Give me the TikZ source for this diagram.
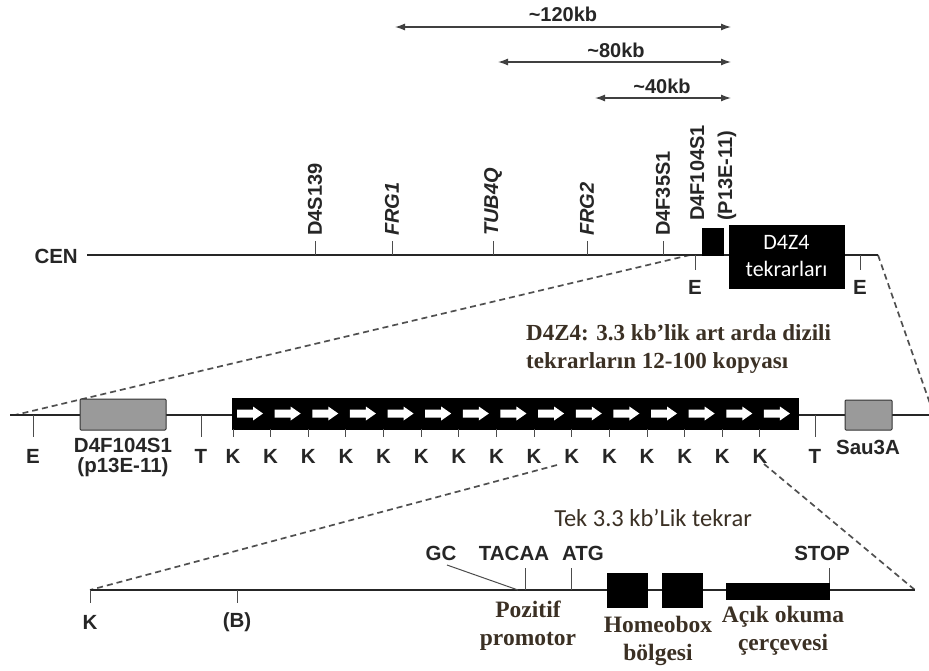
\documentclass[tikz,border=0pt]{standalone}
\usepackage{fontspec}
\setmainfont{Liberation Sans}
\newfontfamily\serifb{Liberation Serif}
\newfontfamily\calib{Carlito}
\usetikzlibrary{arrows.meta}
\definecolor{txtbrown}{HTML}{3B3024}
\definecolor{dashgray}{HTML}{505050}
\definecolor{boxgray}{HTML}{9A9A9A}
\tikzset{
  dnaline/.style={line width=1.8pt, draw=black!85},
  tickline/.style={line width=1pt, draw=black!70},
  zoomdash/.style={line width=1.7pt, draw=dashgray, dash pattern=on 6pt off 4pt},
  scalearrow/.style={line width=1.3pt, draw=black!75, {Latex[length=10pt,width=7pt]}-{Latex[length=10pt,width=7pt]}},
  lab/.style={font=\bfseries\fontsize{20.5}{24}\selectfont, inner sep=0pt, text=black!85},
  toplab/.style={font=\bfseries\fontsize{20}{22}\selectfont, inner sep=0pt, text=black!85},
  rlab/.style={font=\bfseries\fontsize{20}{22}\selectfont, inner sep=0pt, rotate=90, anchor=west, text=black!85},
  serlab/.style={font=\serifb\bfseries\fontsize{23.5}{28}\selectfont, inner sep=0pt, text=txtbrown, align=center},
  blackbox/.style={fill=black, draw=black},
  graybox/.style={fill=boxgray, draw=black!80, line width=1pt, rounded corners=1pt},
}
\begin{document}
\begin{tikzpicture}[x=1pt,y=-1pt]
\useasboundingbox (0,0) rectangle (929,670);

% ---- scale arrows
\coordinate (s1l) at (395,27); \coordinate (s1r) at (731,27);
\coordinate (s2l) at (498,62); \coordinate (s2r) at (731,62);
\coordinate (s3l) at (595,98); \coordinate (s3r) at (731,98);
\draw[scalearrow] (s1l) -- (s1r);
\draw[scalearrow] (s2l) -- (s2r);
\draw[scalearrow] (s3l) -- (s3r);
\node[toplab] (l120) at (563,14) {\char"7E 120kb};
\node[toplab] (l80) at (616,50) {\char"7E 80kb};
\node[toplab] (l40) at (662,86) {\char"7E 40kb};

% ---- top chromosome line
\coordinate (cen) at (87,255);
\coordinate (mend) at (878,255);
\node[lab, anchor=east] (cenlab) at (78,256) {CEN};
\coordinate (zl) at (690,255);
\coordinate (zr) at (934,415);
\draw[zoomdash] (zl) -- (15,415);
\draw[zoomdash] (mend) -- (zr);
\draw[dnaline] (cen) -- (mend);

\foreach \x/\t/\nm in {315/D4S139/m1, 392/\textit{FRG1}/m2, 493/\textit{TUB4Q}/m3, 587/\textit{FRG2}/m4, 663/D4F35S1/m5}{
  \coordinate (\nm) at (\x,255);
  \draw[tickline] (\nm) -- ++(0,-14);
  \node[rlab] (\nm lab) at (\x,236) {\t};
}
\node[font=\bfseries\fontsize{20}{28}\selectfont, inner sep=0pt, rotate=90, anchor=north west, align=left, text=black!85] (p13lab) at (690,221) {D4F104S1\\(P13E-11)};
\node[blackbox, minimum width=21pt, minimum height=27pt, inner sep=0pt] (p13box) at (712.5,241.5) {};
\node[blackbox, minimum width=115pt, minimum height=63pt, inner sep=0pt, text=white, align=center, font=\calib\fontsize{22}{27}\selectfont] (d4z4) at (786.5,256.5) {D4Z4\\tekrarları};

\coordinate (e1) at (695,255); \coordinate (e2) at (860,255);
\draw[tickline] (e1) -- ++(0,15);
\draw[tickline] (e2) -- ++(0,15);
\node[lab] (e1lab) at (695,287) {E};
\node[lab] (e2lab) at (860,287) {E};

% ---- row 2
\node[serlab, anchor=west, align=left, font=\serifb\bfseries\fontsize{23}{28}\selectfont] (d4title) at (526,349) {D4Z4: 3.3 kb’lik art arda dizili\\tekrarların 12-100 kopyası};

\coordinate (r2l) at (10,415); \coordinate (r2r) at (929,415);
\draw[dnaline] (r2l) -- (r2r);
\coordinate (te) at (33,415); \coordinate (tt1) at (201,415); \coordinate (tt2) at (815,415);
\draw[tickline] (te) -- ++(0,22);
\draw[tickline] (tt1) -- ++(0,22);
\draw[tickline] (tt2) -- ++(0,22);
\node[lab] (r2e) at (33,456) {E};
\node[lab] (r2t1) at (201,456) {T};
\node[lab] (r2t2) at (815,456) {T};

\node[graybox, minimum width=86pt, minimum height=31pt, inner sep=0pt] (p13gray) at (123,414.5) {};
\node[lab] (p13a) at (123,445) {D4F104S1};
\node[lab] (p13b) at (123,467) {(p13E-11)};
\node[graybox, minimum width=47pt, minimum height=30pt, inner sep=0pt] (sau) at (868.5,415) {};
\node[lab] (saulab) at (868,447) {Sau3A};

\node[blackbox, minimum width=566pt, minimum height=31pt, inner sep=0pt] (rep) at (515,413.5) {};
\foreach \i in {0,...,14}{
  \pgfmathsetmacro{\cx}{250+37.64*\i}
  \fill[white] (\cx-13,409.5) -- (\cx+3,409.5) -- (\cx+3,406.5) -- (\cx+13,413.5) -- (\cx+3,420.5) -- (\cx+3,417.5) -- (\cx-13,417.5) -- cycle;
  \pgfmathsetmacro{\kx}{233+37.64*\i}
  \draw[tickline] (\kx,429) -- (\kx,437);
  \node[lab] (k\i) at (\kx,456) {K};
}

% ---- row 3
\coordinate (r3l) at (90,590); \coordinate (r3r) at (915,590);
\coordinate (z3l) at (557,465); \coordinate (z3r) at (764,464);
\draw[zoomdash] (z3l) -- (r3l);
\draw[zoomdash] (z3r) -- (r3r);
\draw[dnaline] (r3l) -- (r3r);
\draw[tickline] (r3l) -- ++(0,13);
\node[lab] (r3k) at (90,622) {K};
\coordinate (bb) at (237,590);
\draw[tickline] (bb) -- ++(0,13);
\node[lab] (r3b) at (237,622) {(B)};

\node[font=\calib\fontsize{24.5}{28}\selectfont, inner sep=0pt, text=txtbrown] (tek) at (653,518) {Tek 3.3 kb’Lik tekrar};

\node[lab] (gc) at (441,553) {GC};
\node[lab] (tacaa) at (514,553) {TACAA};
\node[lab] (atg) at (583,553) {ATG};
\node[lab] (stop) at (822,553) {STOP};
\coordinate (gcp) at (518,590);
\draw[tickline] (447,565) -- (gcp);
\coordinate (tap) at (525,590); \coordinate (atp) at (571,590);
\draw[tickline] (tap) -- ++(0,-22);
\draw[tickline] (atp) -- ++(0,-22);
\node[blackbox, minimum width=40pt, minimum height=34pt, inner sep=0pt] (hb1) at (627,590) {};
\node[blackbox, minimum width=40pt, minimum height=34pt, inner sep=0pt] (hb2) at (682,590) {};
\node[blackbox, minimum width=103pt, minimum height=16pt, inner sep=0pt] (orf) at (777.5,591) {};
\draw[tickline] (orf.north east) -- ++(0,-15);

\node[serlab] (poz) at (528,626) {Pozitif\\promotor};
\node[serlab] (hom) at (658,641) {Homeobox\\bölgesi};
\node[serlab] (acik) at (783,631) {Açık okuma\\çerçevesi};
\end{tikzpicture}
\end{document}
